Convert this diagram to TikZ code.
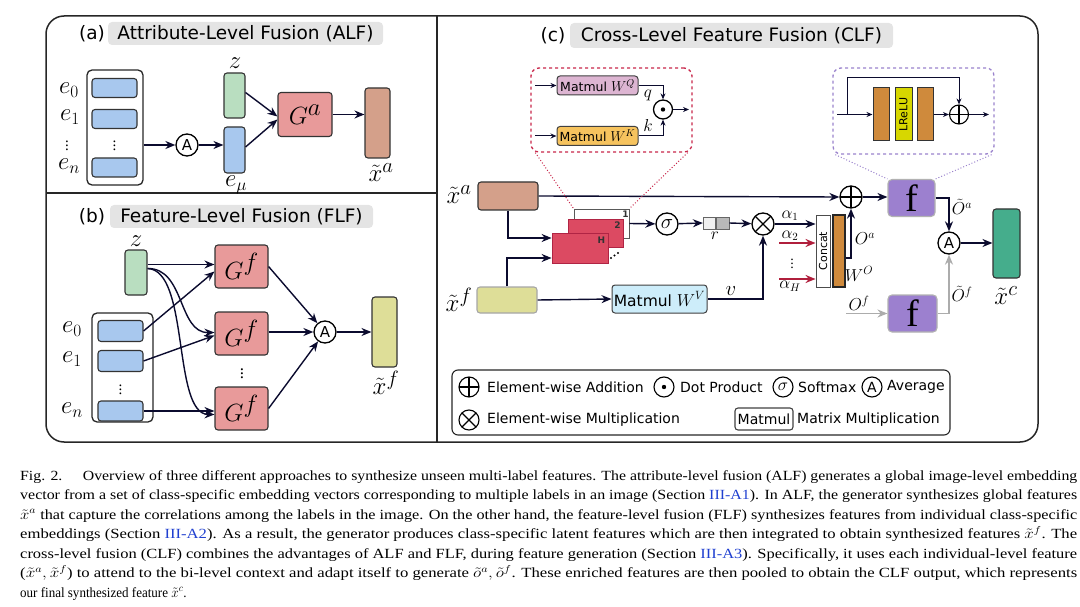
\documentclass[tikz,border=0pt]{standalone}
\usepackage{fontspec}
\setmainfont{Liberation Serif}
\setsansfont{DejaVu Sans}
\usepackage{graphicx}
\usetikzlibrary{arrows.meta,positioning}

\definecolor{embblue}{HTML}{A8C8EE}
\definecolor{zgreen}{HTML}{B9DEC0}
\definecolor{genred}{HTML}{E89A9A}
\definecolor{xabrown}{HTML}{D4A08A}
\definecolor{xfyellow}{HTML}{DEDE98}
\definecolor{xcgreen}{HTML}{45AD8C}
\definecolor{headred}{HTML}{DC4A62}
\definecolor{headedge}{HTML}{B02444}
\definecolor{fpurple}{HTML}{9C80CF}
\definecolor{barorange}{HTML}{CF8A3C}
\definecolor{lreluyellow}{HTML}{D7D700}
\definecolor{wvblue}{HTML}{CDEDFA}
\definecolor{wqpink}{HTML}{DDB5D2}
\definecolor{wkorange}{HTML}{F6C35E}
\definecolor{titlegray}{HTML}{E4E4E4}
\definecolor{arrnavy}{HTML}{0B0B2E}
\definecolor{arrred}{HTML}{B01F3C}
\definecolor{zoomred}{HTML}{C8264A}
\definecolor{zoompurple}{HTML}{9A82CC}
\definecolor{linkblue}{HTML}{2040D0}

\newcommand{\fsz}[1]{\fontsize{#1}{#1}\selectfont}

\tikzset{
  frame/.style={draw=black!85, line width=1.5pt},
  titlebox/.style={fill=titlegray, rounded corners=4pt, minimum height=23pt, inner sep=0pt, font=\fsz{18.5}\sffamily},
  titlemark/.style={inner sep=0pt, font=\fsz{18.5}\sffamily},
  vec/.style={draw=black!80, line width=1.1pt, rounded corners=3pt, inner sep=0pt},
  embbar/.style={vec, fill=embblue, minimum width=45pt, minimum height=19pt},
  group/.style={draw=black!85, line width=1.3pt, rounded corners=5pt, inner sep=0pt},
  gen/.style={vec, fill=genred, minimum width=54pt, minimum height=44pt, font=\fsz{37}},
  fbox/.style={draw=gray!60, line width=1.1pt, rounded corners=4pt, fill=fpurple, inner sep=0pt, font=\fsz{38}},
  op/.style={circle, draw=black, line width=1.3pt, minimum size=22pt, inner sep=0pt},
  addop/.style={op, path picture={\draw[line width=1.2pt] (path picture bounding box.north) -- (path picture bounding box.south) (path picture bounding box.west) -- (path picture bounding box.east);}},
  mulop/.style={op, path picture={\draw[line width=1.2pt] (path picture bounding box.north west) -- (path picture bounding box.south east) (path picture bounding box.south west) -- (path picture bounding box.north east);}},
  dotop/.style={op, path picture={\fill (path picture bounding box.center) circle (2.2pt);}},
  avgop/.style={op, font=\fsz{15}\sffamily},
  sigop/.style={op, font=\fsz{21}},
  lbl/.style={inner sep=0pt},
  vdots/.style={inner sep=0pt, font=\fsz{15}},
  matbox/.style={draw=black!75, line width=1pt, rounded corners=3pt, inner sep=0pt},
  headbox/.style={draw=headedge, line width=0.8pt, fill=headred, inner sep=0pt},
  headnum/.style={inner sep=0pt, font=\fsz{9}\sffamily\bfseries, text=black!80},
  rcell/.style={draw=black!60, line width=0.7pt, minimum width=12.5pt, minimum height=12pt, inner sep=0pt},
  legtxt/.style={inner sep=0pt, anchor=west, font=\fsz{14}\sffamily},
  arr/.style={draw=arrnavy, line width=1.4pt, -{Stealth[length=10pt,width=8pt]}},
  smallarr/.style={draw=arrnavy, line width=1pt, -{Stealth[length=6pt,width=5pt]}},
  redarr/.style={draw=arrred, line width=1.6pt, -{Stealth[length=10pt,width=8pt]}},
  grayarr/.style={draw=gray!65, line width=1.5pt, -{Stealth[length=10pt,width=8pt]}},
  capline/.style={inner sep=0pt, anchor=base west, font=\fsz{14}}
}

\begin{document}
\begin{tikzpicture}[x=1pt, y=-1pt]
\useasboundingbox (0,0) rectangle (1080,607);

% Frame and dividers
\draw[frame, rounded corners=18pt] (46,16) rectangle (1038,442);
\draw[frame] (437,16) -- (437,442);
\draw[frame] (46,193) -- (437,193);

% (a) Attribute-Level Fusion
\node[titlemark] (alfmark) at (92,33.5) {(a)};
\node[titlebox, minimum width=275pt] (alftitle) at (245.5,33.5) {Attribute-Level Fusion (ALF)};
\node[group, minimum width=56pt, minimum height=115pt] (embA) at (115,127.5) {};
\node[embbar] (e0A) at (114.5,88) {};
\node[embbar] (e1A) at (114.5,119) {};
\node[vdots] (dotsinA) at (114.5,143) {$\vdots$};
\node[embbar] (enA) at (114.5,167.5) {};
\node[lbl, font=\fsz{26}] (e0Albl) at (69,90) {$e_0$};
\node[lbl, font=\fsz{26}] (e1Albl) at (70,117) {$e_1$};
\node[vdots] (dotsA) at (67,143) {$\vdots$};
\node[lbl, font=\fsz{26}] (enAlbl) at (69,166) {$e_n$};
\node[avgop] (avgA) at (187,145) {A};
\node[vec, fill=embblue, minimum width=21pt, minimum height=46pt] (emu) at (234.5,150) {};
\node[vec, fill=zgreen, minimum width=21pt, minimum height=45pt] (zA) at (234.5,95.5) {};
\node[lbl, font=\fsz{28}] (zAlbl) at (235,63) {$z$};
\node[lbl, font=\fsz{25}] (emulbl) at (236,185) {$e_\mu$};
\node[gen] (genA) at (305,114.5) {$G^a$};
\node[vec, fill=xabrown, minimum width=25pt, minimum height=70pt] (xaA) at (377.5,123) {};
\node[lbl, font=\fsz{29}] (xaAlbl) at (381,173) {$\tilde{x}^a$};
\draw[arr] (embA.east |- avgA) -- (avgA);
\draw[arr] (avgA) -- (avgA -| emu.west);
\draw[arr] ([yshift=3pt]zA.east) -- ([yshift=-2pt]genA.west);
\draw[arr] ([yshift=3pt]emu.east) -- ([yshift=-5pt]genA.west);
\draw[arr] (genA) -- (genA -| xaA.west);

% (b) Feature-Level Fusion
\node[titlemark] (flfmark) at (92,216.5) {(b)};
\node[titlebox, minimum width=263pt] (flftitle) at (241.5,216.5) {Feature-Level Fusion (FLF)};
\node[vec, fill=zgreen, minimum width=22pt, minimum height=45pt] (zB) at (136,272.5) {};
\node[lbl, font=\fsz{28}] (zBlbl) at (136,241) {$z$};
\node[group, minimum width=61pt, minimum height=109pt] (embB) at (122.5,367.5) {};
\node[embbar, minimum height=21pt] (e0B) at (120.5,331) {};
\node[embbar, minimum height=21pt] (e1B) at (120.5,361) {};
\node[vdots] (dotsinB) at (120.5,387) {$\vdots$};
\node[embbar, minimum height=20pt] (enB) at (120.5,411) {};
\node[lbl, font=\fsz{26}] (e0Blbl) at (72,329) {$e_0$};
\node[lbl, font=\fsz{26}] (e1Blbl) at (72,359) {$e_1$};
\node[lbl, font=\fsz{26}] (enBlbl) at (72,410) {$e_n$};
\node[gen, minimum width=53pt, minimum height=43pt] (g1B) at (241.5,266.5) {$G^f$};
\node[gen, minimum width=53pt, minimum height=43pt] (g2B) at (241.5,333.5) {$G^f$};
\node[vdots, font=\fsz{17}] (dotsG) at (242,371) {$\vdots$};
\node[gen, minimum width=53pt, minimum height=43pt] (g3B) at (241.5,408.5) {$G^f$};
\node[avgop] (avgB) at (325,332) {A};
\node[vec, fill=xfyellow, minimum width=25pt, minimum height=70pt] (xfB) at (384.5,332) {};
\node[lbl, font=\fsz{29}] (xfBlbl) at (386,383) {$\tilde{x}^f$};
\draw[arr] ([yshift=2pt]g1B.west -| zB.east) -- ([yshift=2pt]g1B.west);
\draw[arr] ([yshift=4pt]zB.east) .. controls (185,268) and (178,333) .. ([yshift=1pt]g2B.west);
\draw[arr] ([yshift=4pt]zB.east) .. controls (190,270) and (172,414) .. ([yshift=-6pt]g3B.west);
\draw[arr] (e0B.east) -- ([yshift=-5pt]g1B.west);
\draw[arr] (e1B.east) -- ([yshift=-2pt]g2B.west);
\draw[arr] (enB.east) -- (enB.east -| g3B.west);
\draw[arr] (g1B.east) -- (avgB);
\draw[arr] (g2B.east |- avgB) -- (avgB);
\draw[arr] (g3B.east) -- (avgB);
\draw[arr] (avgB) -- (avgB -| xfB.west);

% (c) Cross-Level Feature Fusion
\node[titlemark] (clfmark) at (553,35.5) {(c)};
\node[titlebox, minimum width=323pt, minimum height=25pt] (clftitle) at (731.5,35.5) {Cross-Level Feature Fusion (CLF)};
\node[vec, fill=xabrown, minimum width=60pt, minimum height=28pt] (xaC) at (508,196) {};
\node[lbl, font=\fsz{29}] (xaClbl) at (459,195) {$\tilde{x}^a$};
\node[vec, fill=xfyellow, draw=gray!70, minimum width=60pt, minimum height=26pt] (xfC) at (507,300) {};
\node[lbl, font=\fsz{29}] (xfClbl) at (459,300) {$\tilde{x}^f$};

% attention heads
\node[headbox, fill=white, draw=black!65, minimum width=55pt, minimum height=29pt] (head1) at (601.5,223.5) {};
\node[headbox, minimum width=55pt, minimum height=28pt] (head2) at (595.5,233) {};
\node[headbox, minimum width=56pt, minimum height=30pt] (headH) at (580,248) {};
\node[headnum] (head1lbl) at ([shift={(-4,6)}]head1.north east) {1};
\node[headnum] (head2lbl) at ([shift={(-6,7)}]head2.north east) {2};
\node[headnum] (headHlbl) at ([shift={(-7,8)}]headH.north east) {H};
\fill (611,258) circle (1.1) (614.5,255.5) circle (1.1) (618,253) circle (1.1);
\draw[arr] (xaC.south) |- ([yshift=10pt]headH.west);
\draw[arr] (xfC.north) |- ([yshift=-10pt]headH.west);
\node[sigop] (sigC) at (667,224) {$\sigma$};
\node[rcell, fill=gray!12] (r1) at (709.5,223) {};
\node[rcell, fill=gray!55, right=0pt of r1] (r2) {};
\node[lbl, font=\fsz{19}] (rlbl) at (715,236) {$r$};
\node[mulop] (mulC) at (763,224) {};
\draw[arr] (head1.east) -- (sigC);
\draw[arr] (sigC) -- (r1.west);
\draw[arr] (r2.east) -- (mulC);
\node[matbox, fill=wvblue, minimum width=95pt, minimum height=28pt, font=\fsz{15.5}\sffamily] (wv) at (659.5,299) {Matmul \fsz{17}$W^V$};
\draw[arr] (xfC.east) -- (wv.west);
\draw[arr] (wv.east) -| (mulC.south);
\node[lbl, font=\fsz{21}, anchor=south] (vlbl) at (731,296) {$v$};

% concat and output projection
\node[draw=black!70, line width=0.9pt, fill=white, minimum width=14pt, minimum height=72pt, inner sep=0pt] (concat) at (823,251) {};
\node[lbl, rotate=90, font=\fsz{11}\sffamily] (concatlbl) at (concat) {Concat};
\node[draw=black!85, line width=1.1pt, fill=barorange, minimum width=12pt, minimum height=72pt, inner sep=0pt] (wo) at (839,251) {};
\draw[arr] (mulC) -- (mulC -| concat.west);
\node[lbl, font=\fsz{16}, anchor=south] (a1lbl) at (790,221) {$\alpha_1$};
\coordinate (a2in) at (779,243);
\coordinate (aHin) at (779,279);
\draw[redarr] (a2in) -- (a2in -| concat.west);
\draw[redarr] (aHin) -- (aHin -| concat.west);
\node[lbl, font=\fsz{16}, anchor=south] (a2lbl) at (790,241) {$\alpha_2$};
\node[lbl, font=\fsz{16}, anchor=north] (aHlbl) at (790,281) {$\alpha_H$};
\node[vdots, font=\fsz{14}] (dotsal) at (792,261) {$\vdots$};
\node[addop] (addC) at (851,197) {};
\draw[arr] (xaC.east) -- (addC.west);
\draw[arr] ([yshift=-7pt]wo.east) -| (addC.south);
\node[lbl, font=\fsz{18}] (oalbl) at (865,239) {$O^a$};
\node[lbl, font=\fsz{17}] (wolbl) at (859,274) {$W^O$};

% residual blocks and pooling
\node[fbox, minimum width=47pt, minimum height=37pt] (fA) at (911.5,198) {$\mathrm{f}$};
\node[fbox, minimum width=49pt, minimum height=37pt] (fF) at (912.5,313.5) {$\mathrm{f}$};
\node[avgop] (avgC) at (949,243) {A};
\node[vec, fill=xcgreen, minimum width=27pt, minimum height=69pt] (xcC) at (1006.5,243.5) {};
\node[lbl, font=\fsz{29}] (xcClbl) at (1006,296) {$\tilde{x}^c$};
\draw[arr] (addC.east) -- (fA.west |- addC);
\draw[arr] (fA.east) -| (avgC.north);
\draw[grayarr] (fF.east) -| (avgC.south);
\coordinate (ofin) at (846,313.5);
\draw[grayarr] (ofin) -- (fF.west);
\node[lbl, font=\fsz{17}, anchor=south] (oflbl) at (859,311) {$O^f$};
\node[lbl, font=\fsz{17}] (toalbl) at (962,207) {$\tilde{O}^a$};
\node[lbl, font=\fsz{17}] (toflbl) at (962,294) {$\tilde{O}^f$};
\draw[arr] (avgC) -- (avgC -| xcC.west);

% zoom: query-key product
\node[draw=zoomred, line width=1.3pt, dashed, rounded corners=8pt, minimum width=161pt, minimum height=84pt, inner sep=0pt] (qkzoom) at (611.5,110) {};
\node[matbox, fill=wqpink, minimum width=81pt, minimum height=19pt, font=\fsz{12.5}\sffamily] (wq) at (597.5,85.5) {Matmul \fsz{14}$W^Q$};
\node[matbox, fill=wkorange, minimum width=81pt, minimum height=19pt, font=\fsz{12.5}\sffamily] (wk) at (597.5,136) {Matmul \fsz{14}$W^K$};
\node[dotop, minimum size=19pt] (dotC) at (663,109.5) {};
\coordinate (qin) at (535,85.5);
\coordinate (kin) at (535,136);
\coordinate (qkout) at (689,109.5);
\draw[smallarr] (qin) -- (wq.west);
\draw[smallarr] (kin) -- (wk.west);
\draw[smallarr] (wq.east) -| (dotC.north);
\draw[smallarr] (wk.east) -| (dotC.south);
\draw[smallarr] (dotC.east) -- (qkout);
\node[lbl, font=\fsz{19}] (qlbl) at (648,95) {$q$};
\node[lbl, font=\fsz{19}] (klbl) at (648,126) {$k$};
\draw[zoomred, line width=1pt, dotted] ([xshift=5pt]qkzoom.south west) -- (head1.north west);
\draw[zoomred, line width=1pt, dotted] ([xshift=-5pt]qkzoom.south east) -- (head1.north east);

% zoom: residual block
\node[draw=zoompurple, line width=1.3pt, dashed, rounded corners=8pt, minimum width=161pt, minimum height=86pt, inner sep=0pt] (fzoom) at (913.5,111) {};
\node[draw=black!80, line width=1pt, fill=barorange, minimum width=16pt, minimum height=53pt, inner sep=0pt] (fc1) at (881,114.5) {};
\node[draw=black!80, line width=1pt, fill=lreluyellow, minimum width=17pt, minimum height=53pt, inner sep=0pt] (lrelu) at (903.5,114.5) {};
\node[lbl, rotate=90, font=\fsz{11}\sffamily] (lrelulbl) at (lrelu) {LReLU};
\node[draw=black!80, line width=1pt, fill=barorange, minimum width=16pt, minimum height=53pt, inner sep=0pt] (fc2) at (925,114.5) {};
\node[addop, minimum size=19pt, line width=1.1pt] (addR) at (959,114.5) {};
\coordinate (resin) at (837,114.5);
\coordinate (skipbase) at (847,114.5);
\coordinate (skiptop) at (959,78);
\coordinate (resout) at (989,114.5);
\draw[smallarr] (resin) -- (fc1.west);
\draw[smallarr] (skipbase) |- (skiptop) -- (addR.north);
\draw[smallarr] (fc2.east) -- (addR.west);
\draw[smallarr] (addR.east) -- (resout);
\draw[zoompurple, line width=1pt, dotted] ([xshift=3pt]fzoom.south west) -- (fA.north west);
\draw[zoompurple, line width=1pt, dotted] ([xshift=-3pt]fzoom.south east) -- (fA.north east);

% Legend
\node[group, line width=1.1pt, rounded corners=6pt, minimum width=498pt, minimum height=65pt] (legend) at (701,402.5) {};
\node[addop, minimum size=20pt, line width=1.1pt] (lgadd) at (469,387) {};
\node[legtxt] (lgaddtxt) at (487,387) {Element-wise Addition};
\node[dotop, minimum size=20pt, line width=1.1pt] (lgdot) at (664,387) {};
\node[legtxt] (lgdottxt) at (680,387) {Dot Product};
\node[sigop, minimum size=20pt, line width=1.1pt, font=\fsz{18}] (lgsig) at (783,387) {$\sigma$};
\node[legtxt] (lgsigtxt) at (798,387) {Softmax};
\node[avgop, minimum size=20pt, line width=1.1pt, font=\fsz{14}\sffamily] (lgavg) at (872,387) {A};
\node[legtxt] (lgavgtxt) at (887,387) {Average};
\node[mulop, minimum size=20pt, line width=1.1pt] (lgmul) at (469,420) {};
\node[legtxt] (lgmultxt) at (487,420) {Element-wise Multiplication};
\node[matbox, line width=1.1pt, minimum width=58pt, minimum height=22pt, font=\fsz{14}\sffamily] (lgmat) at (764,419) {Matmul};
\node[legtxt] (lgmattxt) at (797,420) {Matrix Multiplication};

% Caption
\node[capline] (cap1) at (20,480) {\resizebox{1057pt}{\height}{Fig. 2.\hspace{1.3em}Overview of three different approaches to synthesize unseen multi-label features. The attribute-level fusion (ALF) generates a global image-level embedding}};
\node[capline] (cap2) at (20,499.5) {\resizebox{1057pt}{\height}{vector from a set of class-specific embedding vectors corresponding to multiple labels in an image (Section \textcolor{linkblue}{III-A1}). In ALF, the generator synthesizes global features}};
\node[capline] (cap3) at (20,519) {\resizebox{1057pt}{\height}{$\tilde{x}^a$ that capture the correlations among the labels in the image. On the other hand, the feature-level fusion (FLF) synthesizes features from individual class-specific}};
\node[capline] (cap4) at (20,538.5) {\resizebox{1057pt}{\height}{embeddings (Section \textcolor{linkblue}{III-A2}). As a result, the generator produces class-specific latent features which are then integrated to obtain synthesized features $\tilde{x}^f$. The}};
\node[capline] (cap5) at (20,558) {\resizebox{1057pt}{\height}{cross-level fusion (CLF) combines the advantages of ALF and FLF, during feature generation (Section \textcolor{linkblue}{III-A3}). Specifically, it uses each individual-level feature}};
\node[capline] (cap6) at (20,577.5) {\resizebox{1057pt}{\height}{($\tilde{x}^a, \tilde{x}^f$) to attend to the bi-level context and adapt itself to generate $\tilde{o}^a, \tilde{o}^f$. These enriched features are then pooled to obtain the CLF output, which represents}};
\node[capline] (cap7) at (20,597) {\scalebox{0.93}[1]{our final synthesized feature $\tilde{x}^c$.}};
\end{tikzpicture}
\end{document}
